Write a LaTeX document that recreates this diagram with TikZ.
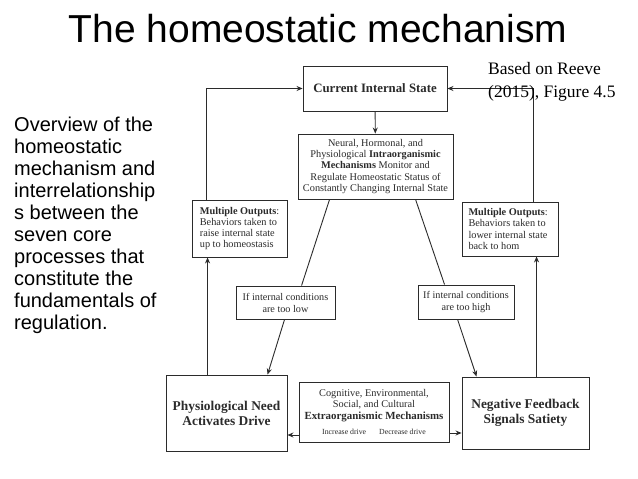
\documentclass[tikz,border=0pt]{standalone}
\usepackage{fontspec}
\setmainfont{Liberation Serif}
\newfontfamily\sansf{Liberation Sans}
\usetikzlibrary{arrows.meta,calc}
\definecolor{ink}{HTML}{2B2B2B}
\begin{document}
\begin{tikzpicture}[x=1pt,y=-1pt,
  box/.style={draw=ink, line width=0.9pt, text=ink, inner sep=2pt, align=center},
  conn/.style={draw=ink, line width=0.9pt},
  arr/.style={conn, -{Stealth[length=6pt,width=5pt]}},
  small/.style={font=\fontsize{10.3}{11.3}\selectfont},
  big/.style={font=\bfseries\fontsize{13.4}{15}\selectfont},
]
\useasboundingbox[fill=white] (0,0) rectangle (638,479);

% title and side texts
\node[font=\sansf\fontsize{39}{44}\selectfont, anchor=base, inner sep=0pt] (title) at (318,42) {The homeostatic mechanism};
\node[font=\sansf\fontsize{20}{22}\selectfont, anchor=north west, align=left, inner sep=0pt] (ov) at (14,117)
  {Overview of the\\homeostatic\\mechanism and\\interrelationship\\s between the\\seven core\\processes that\\constitute the\\fundamentals of\\regulation.};

% boxes
\node[box, minimum width=144pt, minimum height=45pt, font=\bfseries\fontsize{12.8}{14}\selectfont] (cis) at (375,88.5) {Current Internal State};
\node[box, small, minimum width=155pt, minimum height=65pt] (intra) at (375.5,166.5)
  {Neural, Hormonal, and\\Physiological \textbf{Intraorganismic}\\\textbf{Mechanisms} Monitor and\\Regulate Homeostatic Status of\\Constantly Changing Internal State};
\node[box, small, minimum width=95pt, minimum height=57pt, align=left] (mol) at (239.5,228.5)
  {\textbf{Multiple Outputs}:\\Behaviors taken to\\raise internal state\\up to homeostasis};
\node[box, small, minimum width=96pt, minimum height=54pt, align=left] (mor) at (510,229)
  {\textbf{Multiple Outputs}:\\Behaviors taken to\\lower internal state\\back to hom\phantom{eostasis}};
\node[box, small, minimum width=99pt, minimum height=33pt, font=\fontsize{10.2}{12}\selectfont] (low) at (285.5,302.5)
  {If internal conditions\\are too low};
\node[box, small, minimum width=96pt, minimum height=34pt, font=\fontsize{10.2}{12}\selectfont] (high) at (466,302)
  {If internal conditions\\are too high};
\node[box, big, minimum width=121pt, minimum height=76pt] (phys) at (226.5,413)
  {Physiological Need\\Activates Drive};
\node[box, small, minimum width=150pt, minimum height=60pt] (extra) at (374,412)
  {Cognitive, Environmental,\\Social, and Cultural\\{\bfseries\fontsize{10.9}{12}\selectfont Extraorganismic Mechanisms}\\[4pt]{\fontsize{7.8}{9}\selectfont Increase drive\hspace{13pt}Decrease drive}};
\node[box, big, minimum width=127pt, minimum height=72pt] (neg) at (525.5,413)
  {Negative Feedback\\Signals Satiety};

% connectors
\draw[arr] (cis) -- (intra);
\draw[arr] ($(mol.north west)+(15,0)$) |- (cis.west);
\draw[arr] ($(mor.north west)+(72,0)$) |- (cis.east);
\draw[arr] ($(phys.north west)+(42,0)$) coordinate (p1) -- (p1 |- mol.south);
\draw[arr] ($(neg.north west)+(75,0)$) coordinate (p2) -- (p2 |- mor.south);
\draw[conn] ($(intra.south west)+(32,0)$) -- ($(low.north west)+(66,0)$);
\draw[arr] ($(low.south west)+(49,0)$) -- ($(phys.north west)+(102,0)$);
\draw[conn] ($(intra.south west)+(118,0)$) -- ($(high.north west)+(27,0)$);
\draw[arr] ($(high.south west)+(40,0)$) -- ($(neg.north west)+(15,0)$);
\draw[arr] ($(extra.west)+(0,23)$) coordinate (e1) -- (e1 -| phys.east);
\draw[arr] ($(extra.east)+(0,21)$) coordinate (e2) -- (e2 -| neg.west);

\node[font=\fontsize{17.5}{23}\selectfont, anchor=north west, align=left, inner sep=0pt] (ref) at (488,62.5)
  {Based on Reeve\\(2015), Figure 4.5};
\end{tikzpicture}
\end{document}
